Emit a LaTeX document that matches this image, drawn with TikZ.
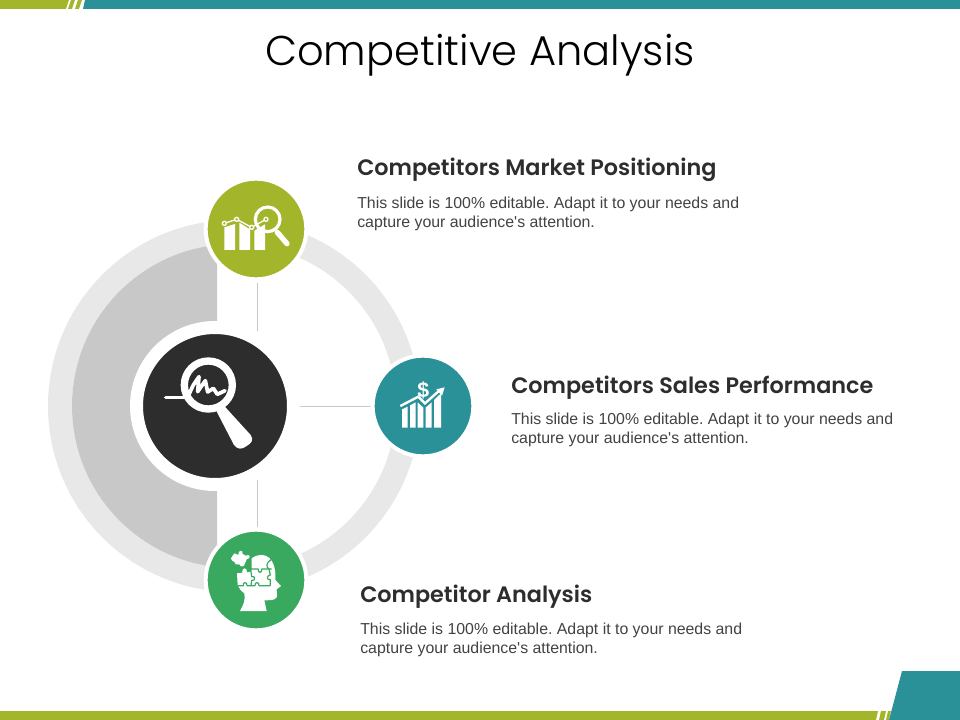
\documentclass[tikz,border=0pt]{standalone}
\usepackage{fontspec}
\setmainfont{Liberation Sans}[Ligatures=TeXOff]
\newfontfamily\titlefont{Poppins Light}
\newfontfamily\headfont{Poppins SemiBold}
\definecolor{olive}{HTML}{A3B52B}
\definecolor{teal1}{HTML}{2B9199}
\definecolor{green1}{HTML}{38A95F}
\definecolor{dark1}{HTML}{2D2D2D}
\definecolor{ringc}{HTML}{E8E8E8}
\definecolor{halfc}{HTML}{C8C8C8}
\tikzset{
 titletext/.style={font=\titlefont\fontsize{31.2}{38}\selectfont,text=black,inner sep=0},
 headtext/.style={font=\headfont\fontsize{16.75}{20}\selectfont,text=dark1,anchor=base west,inner sep=0},
 bodytext/.style={font=\frenchspacing\fontsize{11.9}{14.4}\selectfont,text=dark1!90,anchor=north west,align=left,inner sep=0},
 iconnode/.style={circle,minimum size=75.5pt,inner sep=0,draw=white,line width=3pt},
 link/.style={draw=halfc,line width=0.6pt},
}
\begin{document}
\begin{tikzpicture}[x=0.75pt,y=-0.75pt]
\useasboundingbox (0,0) rectangle (960,720);
% bars
\fill[olive] (0,0) -- (69,0) -- (66,9) -- (0,9) -- cycle;
\fill[olive] (71,0) -- (75,0) -- (72,9) -- (68,9) -- cycle;
\fill[olive] (78,0) -- (82,0) -- (79,9) -- (75,9) -- cycle;
\fill[teal1] (85,0) -- (960,0) -- (960,9) -- (83,9) -- cycle;
\fill[olive] (0,711) -- (878,711) -- (876,720) -- (0,720) -- cycle;
\fill[olive] (881,711) -- (886,711) -- (884,720) -- (879,720) -- cycle;
\fill[olive] (888,711) -- (891,711) -- (889,720) -- (886,720) -- cycle;
\fill[teal1] (902,671) -- (960,671) -- (960,720) -- (889,720) -- cycle;
% rings
\fill[ringc,even odd rule] (234,406) circle[radius=186] (234,406) circle[radius=162];
\begin{scope}
\clip (0,200) rectangle (217,620);
\fill[halfc] (234,406) circle[radius=162];
\end{scope}
\coordinate (l1a) at (257,283); \coordinate (l1b) at (257,331);
\coordinate (l2a) at (300,406); \coordinate (l2b) at (372,406);
\coordinate (l3a) at (257,480); \coordinate (l3b) at (257,527);
\draw[link] (l1a) -- (l1b);
\draw[link] (l2a) -- (l2b);
\draw[link] (l3a) -- (l3b);
% circles
\node[circle,minimum size=117.75pt,inner sep=0,fill=dark1,draw=white,line width=9.75pt] (hub) at (215,406) {};
\node[iconnode,fill=olive] (n1) at (256,229) {};
\node[iconnode,fill=teal1] (n2) at (423,406) {};
\node[iconnode,fill=green1] (n3) at (256,580) {};
% hub icon
\begin{scope}[shift={(130,320)},x=0.25pt,y=-0.25pt]
\fill[white] (255,265) -- (280,255) -- (362,345) .. controls (372,358) and (365,370) .. (350,378) .. controls (335,390) and (322,388) .. (312,375) -- cycle;
\draw[white,line width=5.5pt,fill=dark1] (235,195) circle[radius=72];
\draw[white,line width=2.6pt,line cap=round] (107,233) -- (165,233);
\draw[white,line width=2.8pt,line cap=round,line join=round] (176,225) -- (190,195) -- (207,170) -- (203,215) -- (226,182) -- (233,216) -- (250,205) -- (262,223) -- (285,212);
\end{scope}
% icon 1
\begin{scope}[shift={(190,170)},x=0.25pt,y=-0.25pt]
\fill[white] (103,172) -- (135,162) -- (135,240) -- (103,240) -- cycle;
\fill[white] (148,158) -- (180,178) -- (180,240) -- (148,240) -- cycle;
\fill[white] (193,182) -- (225,163) -- (225,240) -- (193,240) -- cycle;
\draw[white,line width=1pt] (103,160) -- (140,148) -- (185,172) -- (228,148);
\foreach \p in {(103,160),(140,148),(185,172),(228,148)} \draw[white,line width=1pt,fill=olive] \p circle[radius=6];
\draw[white,line width=2.4pt] (233,148) circle[radius=37];
\draw[white,line width=4pt,line cap=round] (262,187) -- (291,221);
\end{scope}
% icon 2
\begin{scope}[shift={(360,350)},x=0.25pt,y=-0.25pt]
\fill[white] (126,178) -- (143,170) -- (143,233) -- (126,233) -- cycle;
\fill[white] (150,166) -- (167,157) -- (167,233) -- (150,233) -- cycle;
\fill[white] (173,157) -- (190,173) -- (190,233) -- (173,233) -- cycle;
\fill[white] (197,173) -- (215,157) -- (215,233) -- (197,233) -- cycle;
\fill[white] (222,150) -- (243,130) -- (243,233) -- (222,233) -- cycle;
\draw[white,line width=1.8pt] (121,168) -- (175,140) -- (195,160) -- (240,120);
\fill[white] (254,112) -- (229,118) -- (246,137) -- cycle;
\node[font=\bfseries\fontsize{16}{16}\selectfont,text=white,inner sep=0] (dollar) at (190,121) {\$};
\end{scope}
% icon 3
\begin{scope}[shift={(195,525)},x=0.25pt,y=-0.25pt]
% head with the upper left missing
\fill[white] (170,100) .. controls (190,85) and (210,88) .. (222,98) .. controls (238,112) and (243,140) .. (241,165) -- (258,183) -- (245,193) -- (246,215) .. controls (240,228) and (225,225) .. (208,226) -- (215,258) -- (135,258) .. controls (145,240) and (152,225) .. (148,205) .. controls (138,198) and (132,190) .. (128,180) -- (126,145) -- (142,143) .. controls (138,128) and (158,124) .. (156,142) -- (170,140) -- cycle;
% puzzle seams
\draw[green1,line width=0.9pt,line join=round] (168,140) -- (170,155) .. controls (182,150) and (182,170) .. (170,166) -- (168,182);
\draw[green1,line width=0.9pt,line join=round] (128,182) -- (145,182) .. controls (142,170) and (158,170) .. (156,182) -- (180,182) .. controls (178,170) and (194,170) .. (192,182) -- (226,182);
\draw[green1,line width=0.9pt,line join=round] (168,132) -- (190,132) .. controls (186,145) and (204,145) .. (200,132) -- (230,132);
\draw[green1,line width=0.9pt,line join=round] (228,104) .. controls (214,112) and (212,128) .. (222,132) -- (226,150) .. controls (214,152) and (214,166) .. (226,164) -- (226,182);
% flying piece
\fill[white] (118,85) -- (130,90) .. controls (128,75) and (145,72) .. (143,87) -- (152,92) .. controls (165,85) and (170,100) .. (155,103) -- (150,115) .. controls (150,125) and (135,128) .. (133,118) -- (122,118) .. controls (122,108) and (108,110) .. (108,100) .. controls (108,92) and (118,92) .. cycle;
\end{scope}
% text
\node[titletext] (title) at (480,55) {Competitive Analysis};
\node[headtext] (h1) at (357,175.5) {Competitors Market Positioning};
\node[bodytext] (b1) at (357,196.5) {This slide is 100\% editable. Adapt it to your needs and\\capture your audience's attention.};
\node[headtext] (h2) at (511,393.5) {Competitors Sales Performance};
\node[bodytext] (b2) at (511,412.5) {This slide is 100\% editable. Adapt it to your needs and\\capture your audience's attention.};
\node[headtext] (h3) at (360,602.5) {Competitor Analysis};
\node[bodytext] (b3) at (360,622.5) {This slide is 100\% editable. Adapt it to your needs and\\capture your audience's attention.};
\end{tikzpicture}
\end{document}
